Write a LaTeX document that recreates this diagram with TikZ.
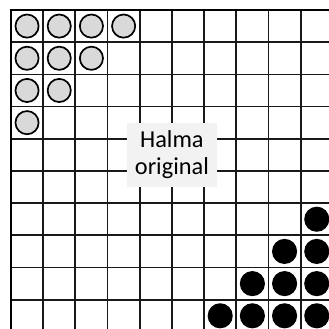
\documentclass[tikz,border=0pt]{standalone}
\usepackage{fontspec}
\setsansfont{Carlito}
\usetikzlibrary{positioning}
\definecolor{pieceGrey}{RGB}{217,217,217}
\definecolor{lblBase}{RGB}{242,242,242}

\begin{document}
\begin{tikzpicture}[
    y=-1cm,
    gridline/.style={line width=1.5pt, black!90},
    border/.style={line width=2pt, black},
    stone/.style={circle, inner sep=0pt},
    light/.style={stone, draw=black, line width=1.5pt, fill=pieceGrey, minimum size=0.72cm},
    dark/.style={stone, fill=black, minimum size=0.78cm},
    lbl/.style={fill=lblBase, text=black, font=\sffamily\fontsize{21.5}{23.5}\selectfont, align=center, minimum width=2.8cm, minimum height=2cm, inner sep=2pt}
]

% --- Rahmen des Ausschnitts ---
\useasboundingbox (-0.34,-0.31) rectangle (9.88,9.91);
\clip (-0.34,-0.31) rectangle (9.88,9.91);

% --- Spielfeld 10x10 ---
\foreach \i in {0,...,10} {
    \draw[gridline] (\i,0) -- (\i,10);
    \draw[gridline] (0,\i) -- (10,\i);
}
\draw[border] (0,0) rectangle (10,10);

% --- Helle Steine (oben links) ---
\foreach \r in {0,...,3} {
    \pgfmathtruncatemacro{\last}{3-\r}
    \foreach \c in {0,...,\last}
        \node[light] (w\r\c) at (\c+0.5,\r+0.5) {};
}

% --- Dunkle Steine (unten rechts) ---
\foreach \r in {6,...,9} {
    \pgfmathtruncatemacro{\first}{15-\r}
    \foreach \c in {\first,...,9}
        \node[dark] (b\r\c) at (\c+0.5,\r+0.5) {};
}

% --- Beschriftung ---
\node[lbl] (title) at (5,4.5) {Halma\\original};

\end{tikzpicture}
\end{document}
